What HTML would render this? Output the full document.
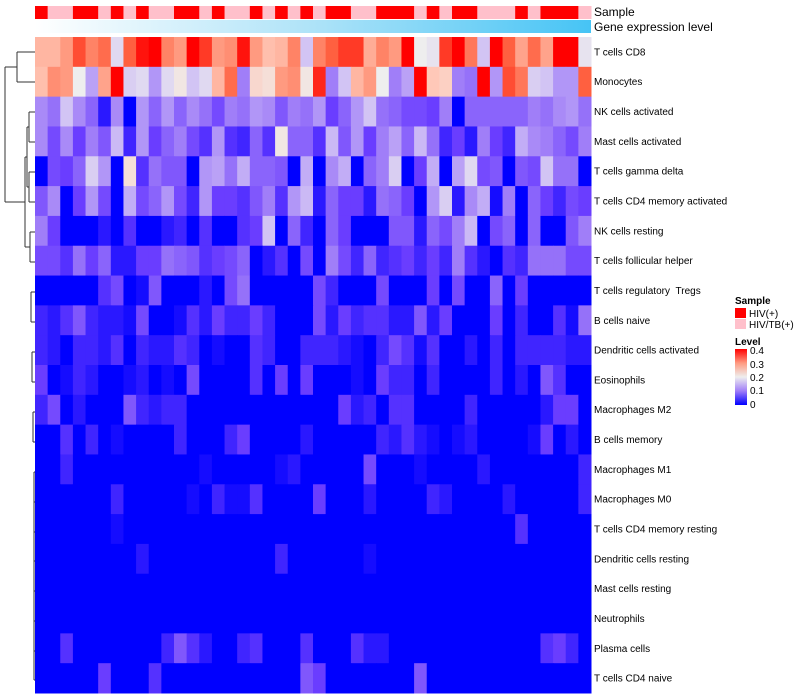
<!DOCTYPE html>
<html><head><meta charset="utf-8"><style>
html,body{margin:0;padding:0;background:#fff;width:800px;height:700px;overflow:hidden}
svg{font-family:"Liberation Sans",Arial,sans-serif}
</style></head><body>
<svg id="chart" width="800" height="700" viewBox="0 0 800 700" xmlns="http://www.w3.org/2000/svg">
<defs><linearGradient id="geneGrad" x1="0" x2="1" y1="0" y2="0"><stop offset="0" stop-color="#ffffff"/><stop offset="0.5" stop-color="#aee3f8"/><stop offset="1" stop-color="#46c4f5"/></linearGradient>
<linearGradient id="levelGrad" x1="0" x2="0" y1="1" y2="0"><stop offset="0" stop-color="#0000ff"/><stop offset="0.25" stop-color="#a07ef8"/><stop offset="0.5" stop-color="#eeeeee"/><stop offset="0.75" stop-color="#ff9a80"/><stop offset="1" stop-color="#ff0000"/></linearGradient></defs>
<g id="cells"></g>
<g id="sampleBar"></g>
<rect x="35" y="20" width="556" height="13" fill="url(#geneGrad)"/>
<text x="594" y="16" font-size="12">Sample</text>
<text x="594" y="31" font-size="12">Gene expression level</text>
<g id="rowLabels"></g>
<g id="dendro" stroke="#333" stroke-width="1" fill="none">
<path d="M17,52 H35 M17,82 H35 M17,52 V82 M5,67 H17"/>
<path d="M29,112 H35 M29,142 H35 M29,112 V142 M29,172 H35 M29,202 H35 M29,172 V202 M27,127 H29 M27,187 H29 M27,127 V187"/>
<path d="M30,232 H35 M30,262 H35 M30,232 V262 M31,292 H35 M31,322 H35 M31,292 V322 M32,352 H35 M32,382 H35 M32,352 V382 M33,412 H35 M33,442 H35 M33,412 V442 M34,472 H35 M34,502 V680 M34,472 V502"/>
<path d="M34,502 H35 M34,532 H35 M34,561 H35 M34,591 H35 M34,621 H35 M34,651 H35 M34,680 H35"/>
<path d="M25,157 H27 M25,247 H30 M25,157 V247 M5,67 V202 M5,202 H25"/>
</g>
<g>
<text x="735" y="304" font-size="10" font-weight="bold">Sample</text>
<rect x="735" y="308" width="11" height="10" fill="#ff0000"/>
<text x="749" y="317" font-size="10">HIV(+)</text>
<rect x="735" y="319" width="11" height="10" fill="#ffc0cb"/>
<text x="749" y="328" font-size="10">HIV/TB(+)</text>
<text x="735" y="345" font-size="10" font-weight="bold">Level</text>
<rect x="735" y="349" width="12" height="56" fill="url(#levelGrad)"/>
<g font-size="10">
<text x="750" y="354">0.4</text><text x="750" y="368">0.3</text><text x="750" y="381">0.2</text><text x="750" y="394">0.1</text><text x="750" y="408">0</text></g>
</g>
</svg>
<script>
const rowNames=["T cells CD8","Monocytes","NK cells activated","Mast cells activated","T cells gamma delta","T cells CD4 memory activated","NK cells resting","T cells follicular helper","T cells regulatory \u00a0Tregs","B cells naive","Dendritic cells activated","Eosinophils","Macrophages M2","B cells memory","Macrophages M1","Macrophages M0","T cells CD4 memory resting","Dendritic cells resting","Mast cells resting","Neutrophils","Plasma cells","T cells CD4 naive"];
const sampleGroups="RPPRRPRPRPPRRPRPPRPRPRPRRPPRRRPRPRRPPPRPRRRP".split("");
const r0=[.27,.27,.3,.36,.32,.34,.18,.35,.39,.4,.32,.3,.4,.37,.3,.31,.39,.3,.26,.27,.32,.16,.32,.35,.37,.37,.28,.32,.3,.4,.2,.19,.37,.4,.33,.16,.4,.35,.29,.34,.29,.4,.4,.19];
const r1=[.26,.31,.3,.2,.13,.29,.4,.17,.18,.12,.18,.21,.16,.18,.27,.34,.1,.23,.22,.3,.31,.21,.38,.1,.16,.27,.3,.2,.1,.13,.4,.25,.24,.1,.09,.4,.12,.36,.33,.17,.16,.12,.12,.35];
const r2=[.11,.09,.16,.11,.08,.02,.11,0,.12,.08,.12,.08,.11,.09,.06,.1,.09,.12,.11,.07,.1,.09,.12,.05,.08,.12,.16,.09,.08,.06,.06,.05,.1,0,.08,.08,.08,.08,.08,.1,.09,.11,.12,.09];
const r3=[.11,.06,.11,.05,.1,.07,.15,.03,.12,.05,.08,.1,.06,.04,.12,.04,.03,.08,.04,.21,.08,.08,.04,.15,.07,.12,.05,.1,.13,.08,.15,.09,.03,.05,.02,.1,.05,.03,.14,.11,.1,.08,.06,.1];
const r4=[0,.06,.05,.08,.17,.12,0,.22,.04,.09,.07,.07,0,.12,.13,.09,.14,.08,.08,.07,0,.14,0,.11,.14,0,.08,.1,.17,0,.05,.14,0,.13,.18,.06,.07,0,.07,.06,.16,.09,.09,0];
const r5=[.07,.11,0,.05,.12,.06,0,.14,.06,.08,.12,.06,.03,.12,.05,.05,.04,.07,.1,.04,.12,.15,.02,.08,.05,.05,.02,.09,.08,.05,0,.12,.17,.02,.11,.14,.01,.1,0,.08,.05,.03,.06,.05];
const r6=[.1,.05,0,0,0,.02,0,.04,0,0,.02,.03,0,.04,0,0,.04,.05,.16,0,.08,.03,0,.08,.05,0,0,0,.07,.07,.02,.08,.06,.1,.15,0,.06,.08,0,.08,0,0,.07,.1];
const r7=[.06,.06,.04,.09,.05,.08,.02,.02,.05,.05,.09,.08,.07,.04,.05,.06,.08,0,.02,.04,0,.06,0,.1,.06,.03,.08,.03,.04,.05,.03,.05,.03,.1,.04,.02,0,.04,.03,.09,.09,.09,.06,.06];
const r8=[0,0,0,0,0,.04,.06,0,.01,.07,0,0,0,.02,0,.06,.09,0,0,0,0,0,.06,.03,0,0,0,.06,0,0,0,.05,0,.06,0,0,.08,0,.05,0,0,0,0,0];
const r9=[.03,.02,.04,.07,.03,.02,.02,.01,.06,0,0,.01,.04,.02,.05,.03,.03,.05,.03,0,0,0,.06,.02,.05,.03,.04,.04,.02,.02,.07,.02,.05,0,0,0,.05,0,.03,0,0,.04,.01,.09];
const r10=[.03,.02,0,.03,.03,.02,.04,0,.03,.02,.02,.04,.03,0,.01,0,0,.04,.03,0,0,.03,.03,.03,.02,.01,0,.03,.06,.04,.01,.04,0,0,.02,0,.03,0,.03,.03,.03,.03,.02,.02];
const r11=[.05,0,.01,.03,.02,0,0,.01,.02,0,.01,0,.06,0,0,0,0,.04,0,.05,0,.05,0,0,0,.01,0,.05,.03,.03,0,.03,0,0,0,0,.03,0,.02,0,.07,.04,0,0];
const r12=[.03,.06,0,.02,0,0,0,.07,.03,.02,.03,.03,0,0,0,0,0,0,0,0,0,0,0,0,.05,.02,.03,0,.04,.04,0,0,0,0,.03,0,0,0,0,0,.02,.05,.05,0];
const r13=[0,0,.04,0,.03,0,.01,0,0,0,0,.03,0,0,0,.03,.05,0,0,0,0,.02,0,0,0,0,0,.03,.02,.04,.02,.01,0,.01,.02,0,0,0,0,.01,.05,0,.02,0];
const r14=[0,0,.03,0,0,0,0,0,0,0,0,0,0,.01,0,0,0,0,0,.01,.02,0,0,0,0,0,.06,0,0,0,.01,0,0,0,0,.02,0,0,0,0,0,0,0,.03];
const r15=[0,0,0,0,0,0,.03,0,0,0,0,0,.01,0,.03,.01,.01,.04,0,0,0,0,.05,0,0,0,.02,0,0,0,0,.03,.02,0,0,0,0,.02,0,0,0,0,0,.03];
const r16=[0,0,0,0,0,0,.01,0,0,0,0,0,0,0,0,0,0,0,0,0,0,0,0,0,0,0,0,0,0,0,0,0,0,0,0,0,0,0,.04,0,0,0,0,0];
const r17=[0,0,0,0,0,0,0,0,.02,0,0,0,0,0,0,0,0,0,0,.03,0,0,0,0,0,0,.01,0,0,0,0,0,0,0,0,0,0,0,0,0,0,0,0,0];
const r18=[0,0,0,0,0,0,0,0,0,0,0,0,0,0,0,0,0,0,0,0,0,0,0,0,0,0,0,0,0,0,0,0,0,0,0,0,0,0,0,0,0,0,0,0];
const r19=[0,0,0,0,0,0,0,0,0,0,0,0,0,0,0,0,0,0,0,0,0,0,0,0,0,0,0,0,0,0,0,0,0,0,0,0,0,0,0,0,0,0,0,0];
const r20=[0,0,.04,0,0,0,0,0,0,0,.03,.07,.04,.02,0,0,.03,.04,0,0,0,.04,0,0,0,.04,.02,.02,0,0,0,0,0,0,0,0,0,0,0,0,.04,.05,.03,0];
const r21=[0,0,0,0,0,.05,0,0,0,.04,0,0,0,0,0,0,0,0,0,0,0,.07,.05,0,0,0,0,0,0,0,.07,0,0,0,0,0,0,0,0,0,0,0,0,0];
const values=[r0,r1,r2,r3,r4,r5,r6,r7,r8,r9,r10,r11,r12,r13,r14,r15,r16,r17,r18,r19,r20,r21];

const NS="http://www.w3.org/2000/svg";
const X0=35,X1=591,Y0=37,Y1=693;
const nCol=sampleGroups.length,nRow=rowNames.length;
const cw=(X1-X0)/nCol,rh=(Y1-Y0)/nRow;
const xScale=c=>X0+c*cw, yScale=r=>Y0+r*rh;
const stops=[[0,[0,0,255]],[.05,[106,61,255]],[.1,[160,126,248]],[.15,[203,185,245]],[.2,[238,238,238]],[.25,[255,200,184]],[.3,[255,154,128]],[.35,[255,96,64]],[.4,[255,0,0]]];
function color(v){v=Math.max(0,Math.min(.4,v));for(let i=1;i<stops.length;i++){if(v<=stops[i][0]){const a=stops[i-1],b=stops[i],t=(v-a[0])/(b[0]-a[0]);return "rgb("+a[1].map((x,k)=>Math.round(x+(b[1][k]-x)*t)).join(",")+")";}}return "rgb(255,0,0)";}
const cells=document.getElementById("cells");
values.forEach((row,r)=>row.forEach((v,c)=>{
 const el=document.createElementNS(NS,"rect");
 el.setAttribute("x",xScale(c));el.setAttribute("y",yScale(r));
 el.setAttribute("width",cw+0.5);el.setAttribute("height",rh+0.5);
 el.setAttribute("fill",color(v));
 
 
 cells.appendChild(el);
}));
const sb=document.getElementById("sampleBar");
sampleGroups.forEach((g,c)=>{
 const el=document.createElementNS(NS,"rect");
 el.setAttribute("x",xScale(c));el.setAttribute("y",6);
 el.setAttribute("width",cw+0.5);el.setAttribute("height",13);
 el.setAttribute("fill",g==="R"?"#ff0000":"#ffc0cb");
 
 
 sb.appendChild(el);
});
const rl=document.getElementById("rowLabels");
rowNames.forEach((n,r)=>{
 const t=document.createElementNS(NS,"text");
 t.setAttribute("x",594);t.setAttribute("y",yScale(r)+rh/2+3.5);
 t.setAttribute("font-size","10");
 t.textContent=n;
 
 
 rl.appendChild(t);
});
</script>
</body></html>
